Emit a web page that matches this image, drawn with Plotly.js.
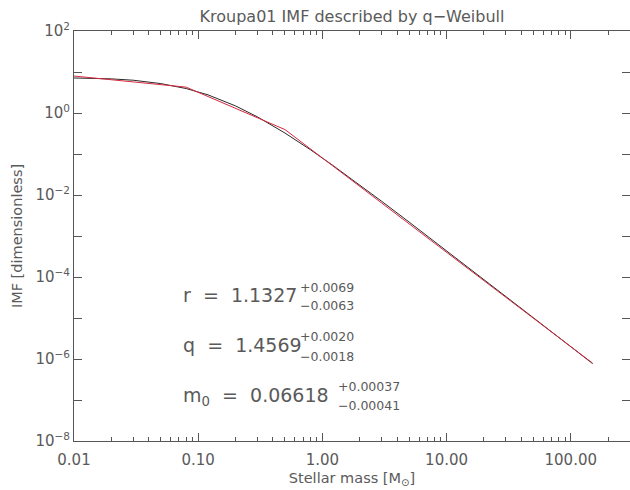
<!DOCTYPE html>
<html>
<head>
<meta charset="utf-8">
<script src="https://cdn.plot.ly/plotly-3.0.1.min.js"></script>
<style>
html,body{margin:0;padding:0;background:#fff;overflow:hidden;}
#chart{width:630px;height:490px;}
</style>
</head>
<body>
<div id="chart"></div>
<script>
// Kroupa01 broken power law (red)
const kroupaMass = [0.01, 0.08, 0.5, 150];
const kroupaIMF  = [7.96, 4.27, 0.394, 7.9e-7];

// q-Weibull description (black)
const qwMass = [0.01, 0.02, 0.03, 0.05, 0.08, 0.12, 0.2, 0.3, 0.5, 0.8, 1.2, 2, 3, 5, 8, 12, 20, 30, 50, 80, 150];
const qwIMF  = [7.15, 6.8, 6.3, 5.22, 3.95, 2.77, 1.489, 0.804, 0.324, 0.1276, 0.0541, 0.01757, 0.00704, 0.002182, 7.35e-4, 2.86e-4, 8.67e-5, 3.36e-5, 1.015e-5, 3.37e-6, 7.72e-7];

const xTickVals = [0.01, 0.1, 1, 10, 100];
const xTickText = ['0.01', '0.10', '1.00', '10.00', '100.00'];
const xMinorVals = [0.02,0.03,0.04,0.05,0.06,0.07,0.08,0.09,
                    0.2,0.3,0.4,0.5,0.6,0.7,0.8,0.9,
                    2,3,4,5,6,7,8,9,
                    20,30,40,50,60,70,80,90,200];
const yTickVals = [1e-8,1e-6,1e-4,1e-2,1,100];
const yTickText = ['10<sup>\u22128</sup>','10<sup>\u22126</sup>','10<sup>\u22124</sup>','10<sup>\u22122</sup>','10<sup>0</sup>','10<sup>2</sup>'];
const yMinorVals = [1e-7,1e-5,1e-3,1e-1,10];

const params = [
  {main: 'r\u00a0 = \u00a01.1327', up: '+0.0069', dn: '\u22120.0063', y: 295, yu: 287, yd: 306, xs: 298},
  {main: 'q\u00a0 = \u00a01.4569', up: '+0.0020', dn: '\u22120.0018', y: 345, yu: 336, yd: 356, xs: 298},
  {main: 'm<sub>0</sub>\u00a0 = \u00a00.06618', up: '+0.00037', dn: '\u22120.00041', y: 396, yu: 386, yd: 405, xs: 336}
];

const L = 74, T = 31, W = 556, H = 410;
const px = x => (x - L) / W;
const py = y => (T + H - y) / H;

const txtColor = '#5a5a5a';
const font = 'DejaVu Sans, Liberation Sans, sans-serif';

const annotations = [];
params.forEach(p => {
  annotations.push({xref:'paper', yref:'paper', x: px(181), y: py(p.y), xanchor:'left', yanchor:'middle',
    text: p.main, showarrow:false, font:{family:font, size:19, color:txtColor}});
  annotations.push({xref:'paper', yref:'paper', x: px(p.xs), y: py(p.yu), xanchor:'left', yanchor:'middle',
    text: p.up, showarrow:false, font:{family:font, size:12.5, color:txtColor}});
  annotations.push({xref:'paper', yref:'paper', x: px(p.xs), y: py(p.yd), xanchor:'left', yanchor:'middle',
    text: p.dn, showarrow:false, font:{family:font, size:12.5, color:txtColor}});
});

const traces = [
  {x: qwMass, y: qwIMF, type:'scatter', mode:'lines', line:{color:'#2a2a2a', width:1}, hoverinfo:'skip'},
  {x: kroupaMass, y: kroupaIMF, type:'scatter', mode:'lines', line:{color:'#d8283c', width:1}, hoverinfo:'skip'}
];

const axisCommon = {
  showgrid:false, zeroline:false, showline:true, linecolor:'#555', linewidth:1,
  ticks:'inside', tickcolor:'#555', tickwidth:1, mirror:'ticks',
  tickfont:{family:font, size:15, color:txtColor}
};

const layout = {
  width:630, height:490,
  margin:{l:L, r:0, t:T, b:490-T-H},
  paper_bgcolor:'#fff', plot_bgcolor:'#fff',
  showlegend:false,
  title:{text:'Kroupa01 IMF described by q\u2212Weibull', font:{family:font, size:16, color:txtColor},
    x: 352/630, xanchor:'center', y: 1 - 16/490, yanchor:'middle', xref:'container', yref:'container'},
  xaxis: Object.assign({}, axisCommon, {
    type:'log', range:[-2, Math.log10(300)],
    tickmode:'array', tickvals:xTickVals, ticktext:xTickText, ticklen:8,
    ticklabelstandoff:5,
    minor:{tickmode:'array', tickvals:xMinorVals, ticks:'inside', ticklen:4, tickcolor:'#555', tickwidth:1, showgrid:false},
    title:{text:'Stellar mass [M<sub>\u2299</sub>]', font:{family:font, size:14.5, color:txtColor}, standoff:4}
  }),
  yaxis: Object.assign({}, axisCommon, {
    type:'log', range:[-8, 2],
    tickmode:'array', tickvals:yTickVals, ticktext:yTickText, ticklen:8,
    minor:{tickmode:'array', tickvals:yMinorVals, ticks:'inside', ticklen:8, tickcolor:'#555', tickwidth:1, showgrid:false},
    title:{text:'IMF [dimensionless]', font:{family:font, size:14.5, color:txtColor}, standoff:9}
  }),
  annotations: annotations
};

Plotly.newPlot('chart', traces, layout, {staticPlot:true, displayModeBar:false});
</script>
</body>
</html>
